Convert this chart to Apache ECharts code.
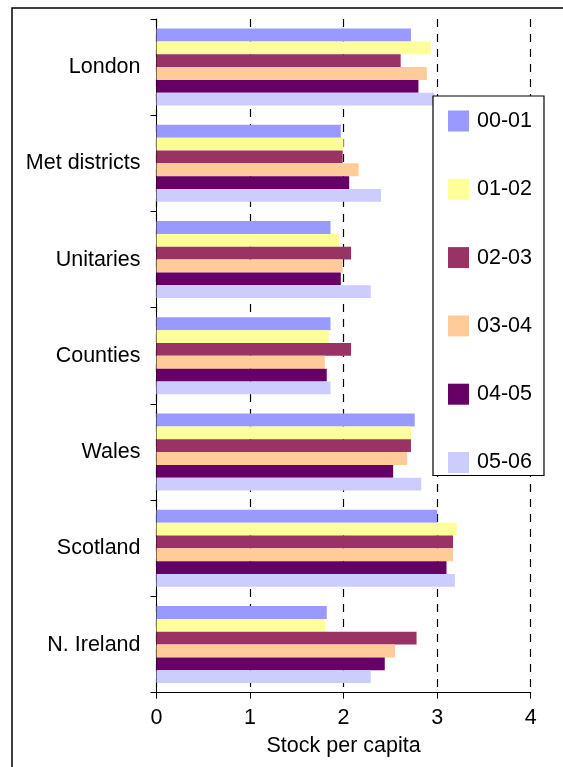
<!DOCTYPE html>
<html>
<head>
<meta charset="utf-8">
<script src="https://cdn.jsdelivr.net/npm/echarts@6/dist/echarts.min.js"></script>
<style>
  html, body { margin: 0; padding: 0; background: #fff; }
  #chart { width: 563px; height: 767px; }
</style>
</head>
<body>
<div id="chart"></div>
<script>
// Regions, top to bottom
const categories = ['London', 'Met districts', 'Unitaries', 'Counties', 'Wales', 'Scotland', 'N. Ireland'];

// Stock per capita by year
const y0001 = [2.72, 1.97, 1.86, 1.86, 2.76, 3.00, 1.82];
const y0102 = [2.93, 2.00, 1.95, 1.84, 2.72, 3.21, 1.80];
const y0203 = [2.61, 1.99, 2.08, 2.08, 2.72, 3.17, 2.78];
const y0304 = [2.89, 2.16, 1.99, 1.80, 2.68, 3.17, 2.55];
const y0405 = [2.80, 2.06, 1.97, 1.82, 2.53, 3.10, 2.44];
const y0506 = [2.97, 2.40, 2.29, 1.86, 2.83, 3.19, 2.29];

const seriesNames = ['00-01', '01-02', '02-03', '03-04', '04-05', '05-06'];
const seriesData = [y0001, y0102, y0203, y0304, y0405, y0506];
const colors = ['#9999FF', '#FFFF99', '#993366', '#FFCC99', '#660066', '#CCCCFF'];

const xTicks = [0, 1, 2, 3, 4];

const font = 'Liberation Sans, Arial, sans-serif';
const fs = 21.5;
const chart = echarts.init(document.getElementById('chart'), null, { renderer: 'canvas' });

chart.setOption({
  animation: false,
  backgroundColor: '#fff',
  color: colors,
  textStyle: { fontFamily: font, color: '#000' },
  graphic: [{
    type: 'rect',
    shape: { x: 12, y: 8, width: 700, height: 900 },
    style: { fill: 'none', stroke: '#000', lineWidth: 1.5 },
    silent: true,
    z: -10
  }],
  grid: { left: 156.5, right: 32.3, top: 19, bottom: 74.3, containLabel: false },
  xAxis: {
    type: 'value',
    min: xTicks[0],
    max: xTicks[xTicks.length - 1],
    interval: 1,
    name: 'Stock per capita',
    nameLocation: 'middle',
    nameGap: 42,
    nameTextStyle: { fontSize: fs, fontFamily: font, color: '#000' },
    axisLine: { show: true, lineStyle: { color: '#000', width: 1 } },
    axisTick: { show: true, length: 6, lineStyle: { color: '#000' } },
    axisLabel: { fontSize: fs, fontFamily: font, color: '#000', margin: 14 },
    splitLine: { show: true, lineStyle: { color: '#000', type: [8, 7], width: 1.2 } }
  },
  yAxis: {
    type: 'category',
    data: categories,
    inverse: true,
    axisLine: { show: true, lineStyle: { color: '#000', width: 1 } },
    axisTick: { show: true, length: 6, lineStyle: { color: '#000' } },
    axisLabel: { fontSize: fs, fontFamily: font, color: '#000', margin: 16 },
    splitLine: { show: false }
  },
  legend: {
    orient: 'vertical',
    left: 433,
    top: 96,
    padding: [14, 12, 2, 15],
    itemWidth: 21,
    itemHeight: 21,
    itemGap: 46.3,
    borderColor: '#000',
    borderWidth: 1.2,
    backgroundColor: '#fff',
    icon: 'rect',
    z: 10,
    textStyle: { fontSize: fs, fontFamily: font, color: '#000', padding: [0, 0, 0, 3] },
    data: seriesNames
  },
  series: seriesNames.map((name, i) => ({
    name: name,
    type: 'bar',
    data: seriesData[i],
    barGap: '0%',
    barCategoryGap: '20%',
    itemStyle: { color: colors[i] }
  }))
});
</script>
</body>
</html>
